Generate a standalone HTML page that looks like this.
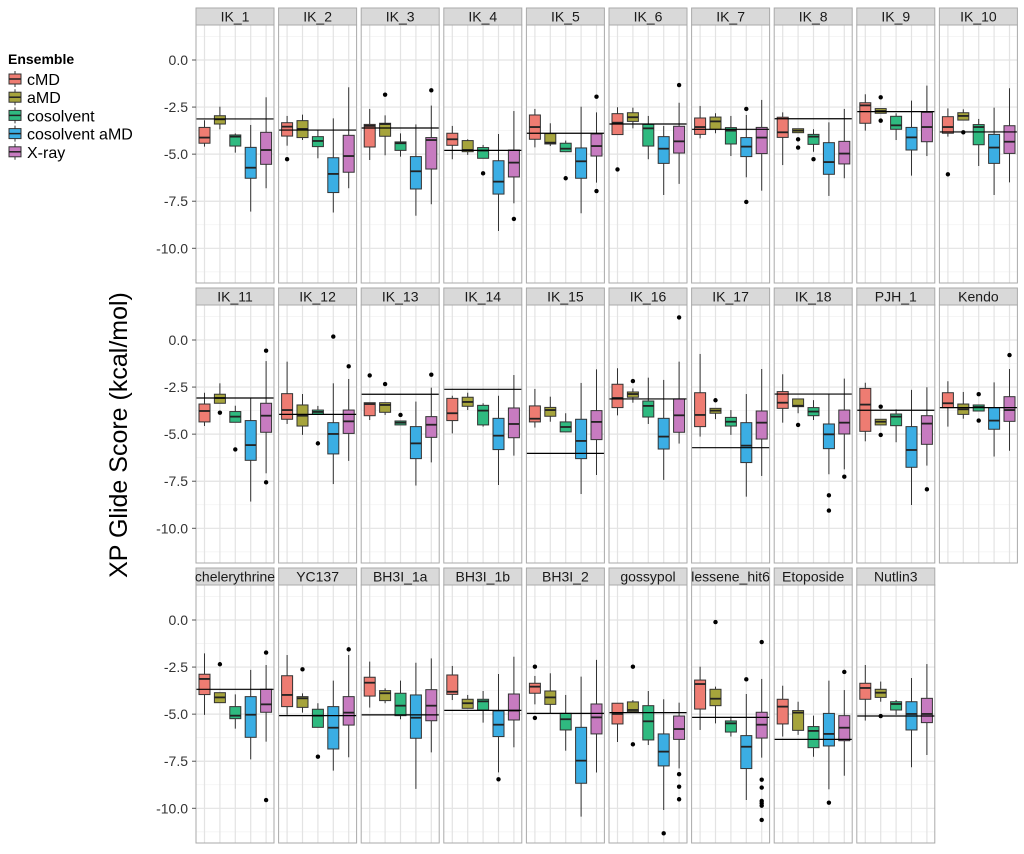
<!DOCTYPE html>
<html><head><meta charset="utf-8">
<style>
html,body{margin:0;padding:0;background:#fff;}
svg{display:block;font-family:"Liberation Sans",Arial,sans-serif;}
</style></head>
<body>
<svg id="chart" width="1024" height="854" viewBox="0 0 1024 854" xmlns="http://www.w3.org/2000/svg">
  <text transform="translate(127,435) rotate(-90)" text-anchor="middle" font-size="25" fill="#000">XP Glide Score (kcal/mol)</text>
  <g id="legend">
    <text x="8" y="64" font-size="14" font-weight="bold" fill="#000">Ensemble</text>
  </g>
</svg>
<script>
const facets = ["IK_1","IK_2","IK_3","IK_4","IK_5","IK_6","IK_7","IK_8","IK_9","IK_10",
"IK_11","IK_12","IK_13","IK_14","IK_15","IK_16","IK_17","IK_18","PJH_1","Kendo",
"chelerythrine","YC137","BH3I_1a","BH3I_1b","BH3I_2","gossypol","lessene_hit6","Etoposide","Nutlin3"];
const seriesNames = ["cMD","aMD","cosolvent","cosolvent aMD","X-ray"];
const yTicks = [0,-2.5,-5,-7.5,-10];
const yTickLabels = ["0.0","-2.5","-5.0","-7.5","-10.0"];
const hlines = [-3.13,-3.72,-3.61,-4.8,-3.89,-3.4,-3.68,-3.12,-2.74,-3.82,-3.08,-3.95,-2.88,-2.62,-6.02,-3.13,-5.72,-2.87,-3.73,-3.59,-3.68,-5.08,-5.04,-4.8,-4.96,-4.92,-5.17,-6.34,-5.1];
// [lower whisker, q1, median, q3, upper whisker]
const cMD = [[-4.6,-4.42,-4.12,-3.58,-3.2],[-4.55,-4.04,-3.54,-3.33,-2.97],[-5.31,-4.62,-3.5,-3.42,-2.6],[-5.27,-4.53,-4.21,-3.89,-3.5],[-4.64,-4.21,-3.56,-2.92,-2.6],[-3.96,-3.96,-3.33,-2.85,-2.51],[-4.16,-3.95,-3.56,-3.08,-2.44],[-5.58,-4.11,-3.84,-3.04,-2.78],[-3.75,-3.36,-2.41,-2.27,-1.82],[-4.07,-3.89,-3.56,-3.01,-2.57],
[-4.57,-4.35,-3.77,-3.4,-2.8],[-4.46,-4.21,-3.72,-2.85,-1.15],[-4.25,-4.02,-3.4,-3.33,-3.33],[-4.96,-4.28,-3.89,-3.1,-2.96],[-4.65,-4.35,-4.18,-3.5,-2.6],[-4.0,-3.59,-3.08,-2.35,-1.5],[-5.13,-4.6,-3.98,-2.8,-0.74],[-4.39,-3.63,-3.33,-2.74,-1.82],[-5.38,-4.85,-3.43,-2.57,-2.27],[-4.6,-3.59,-3.36,-2.8,-2.19],
[-5.04,-3.96,-3.13,-2.88,-1.77],[-5.04,-4.6,-3.98,-2.96,-1.86],[-4.65,-4.04,-3.33,-3.04,-2.21],[-4.25,-3.95,-3.81,-2.92,-2.44],[-4.48,-3.89,-3.54,-3.36,-2.97],[-6.48,-5.52,-4.99,-4.42,-4.42],[-5.84,-4.73,-3.4,-3.19,-2.48],[-6.19,-5.52,-4.6,-4.21,-3.49],[-5.34,-4.21,-3.61,-3.36,-2.39]];
const aMD = [[-3.68,-3.4,-3.15,-2.96,-2.48],[-4.25,-4.12,-3.66,-3.22,-2.9],[-5.06,-4.05,-3.4,-3.36,-2.94],[-5.04,-4.87,-4.78,-4.28,-4.21],[-4.57,-4.46,-4.39,-3.91,-3.36],[-3.63,-3.26,-3.04,-2.8,-2.53],[-3.89,-3.68,-3.26,-3.03,-2.83],[-3.86,-3.86,-3.75,-3.65,-3.65],[-2.83,-2.83,-2.71,-2.58,-2.58],[-3.19,-3.19,-2.97,-2.8,-2.62],
[-3.36,-3.36,-3.08,-2.88,-2.3],[-5.04,-4.57,-4.02,-3.45,-2.87],[-3.98,-3.84,-3.45,-3.33,-3.33],[-3.72,-3.52,-3.29,-3.04,-2.8],[-4.34,-4.05,-3.72,-3.58,-3.01],[-3.33,-3.04,-2.87,-2.76,-2.57],[-4.2,-3.89,-3.75,-3.63,-3.63],[-3.89,-3.54,-3.49,-3.13,-3.13],[-4.51,-4.51,-4.34,-4.21,-4.21],[-4.18,-3.95,-3.68,-3.4,-2.76],
[-4.39,-4.39,-4.11,-3.86,-3.86],[-4.92,-4.64,-4.16,-4.07,-3.9],[-4.42,-4.28,-3.89,-3.75,-3.63],[-4.69,-4.69,-4.42,-4.21,-3.98],[-4.99,-4.48,-4.11,-3.77,-2.83],[-4.87,-4.87,-4.78,-4.35,-4.25],[-5.49,-4.55,-4.18,-3.68,-3.54],[-6.1,-5.86,-4.92,-4.81,-4.34],[-4.34,-4.11,-3.86,-3.68,-3.27]];
const cosolvent = [[-4.92,-4.57,-4.07,-3.98,-3.9],[-5.22,-4.6,-4.3,-4.07,-3.72],[-5.13,-4.8,-4.42,-4.35,-3.9],[-5.22,-5.22,-4.81,-4.65,-4.51],[-4.87,-4.87,-4.71,-4.42,-4.28],[-5.27,-4.57,-3.63,-3.42,-2.97],[-5.1,-4.46,-3.75,-3.59,-2.97],[-4.87,-4.48,-4.07,-3.95,-3.68],[-4.25,-3.68,-3.47,-2.99,-2.83],[-5.63,-4.5,-3.56,-3.43,-3.13],
[-4.37,-4.37,-4.07,-3.8,-3.49],[-3.95,-3.95,-3.82,-3.72,-3.5],[-4.51,-4.51,-4.39,-4.3,-4.3],[-4.6,-4.51,-3.75,-3.47,-3.36],[-4.88,-4.88,-4.62,-4.35,-3.89],[-4.46,-4.09,-3.5,-3.24,-2.0],[-5.04,-4.57,-4.34,-4.11,-3.72],[-4.25,-4.02,-3.8,-3.59,-3.19],[-5.43,-4.55,-4.07,-3.93,-3.68],[-3.77,-3.77,-3.56,-3.45,-3.45],
[-5.77,-5.24,-5.08,-4.6,-3.95],[-5.7,-5.7,-5.08,-4.74,-4.42],[-5.27,-5.08,-4.55,-3.89,-3.22],[-5.45,-4.78,-4.32,-4.21,-3.77],[-6.94,-5.84,-5.27,-4.96,-3.98],[-6.64,-6.37,-5.38,-4.55,-3.77],[-6.19,-5.95,-5.49,-5.36,-5.13],[-7.26,-6.78,-5.89,-5.66,-5.08],[-5.04,-4.78,-4.46,-4.34,-4.25]];
const cosolventAMD = [[-8.05,-6.28,-5.72,-4.64,-3.45],[-8.1,-7.04,-6.05,-5.19,-3.1],[-8.27,-6.85,-5.91,-5.13,-3.42],[-9.08,-7.12,-6.46,-5.35,-3.93],[-8.14,-6.28,-5.38,-4.67,-2.48],[-7.17,-5.49,-4.71,-4.07,-3.5],[-6.23,-5.13,-4.6,-4.12,-2.92],[-7.22,-6.07,-5.42,-4.39,-3.31],[-6.14,-4.78,-4.11,-3.58,-2.16],[-7.17,-5.49,-4.65,-3.95,-2.53],
[-8.58,-6.39,-5.58,-4.28,-3.1],[-7.65,-6.05,-4.99,-4.39,-2.3],[-7.73,-6.3,-5.49,-4.6,-3.27],[-7.7,-5.82,-5.08,-4.16,-2.96],[-8.18,-6.3,-5.36,-4.21,-2.28],[-7.43,-5.79,-5.13,-4.16,-2.12],[-8.32,-6.51,-5.61,-4.39,-2.87],[-7.13,-5.77,-5.01,-4.46,-2.87],[-8.76,-6.76,-5.84,-4.6,-2.65],[-6.19,-4.74,-4.28,-3.59,-2.25],
[-7.4,-6.23,-5.03,-4.07,-2.65],[-8.0,-6.85,-5.72,-4.6,-3.22],[-8.97,-6.28,-5.19,-3.98,-2.27],[-8.09,-6.19,-5.56,-4.83,-2.87],[-10.44,-8.67,-7.47,-5.7,-3.01],[-10.09,-7.75,-6.99,-6.05,-4.21],[-9.56,-7.89,-6.73,-6.14,-3.93],[-8.99,-6.69,-6.05,-4.96,-3.22],[-7.82,-5.84,-4.99,-4.34,-3.08]];
const xray = [[-6.81,-5.54,-4.78,-3.84,-1.98],[-6.81,-5.96,-5.1,-4.0,-1.45],[-7.66,-5.79,-4.25,-4.12,-2.42],[-7.61,-6.21,-5.45,-4.78,-2.71],[-6.51,-5.1,-4.57,-3.93,-2.78],[-6.58,-4.94,-4.32,-3.52,-2.27],[-6.94,-4.97,-4.12,-3.58,-2.12],[-6.28,-5.52,-4.97,-4.32,-2.6],[-5.1,-4.34,-3.56,-2.78,-1.36],[-6.5,-4.96,-4.34,-3.49,-1.5],
[-7.08,-4.9,-4.02,-3.36,-1.12],[-6.42,-4.96,-4.32,-3.72,-2.07],[-6.5,-5.17,-4.5,-4.07,-2.53],[-6.14,-5.19,-4.46,-3.61,-1.86],[-7.17,-5.29,-4.35,-3.75,-1.56],[-5.5,-4.9,-4.0,-3.13,-1.15],[-7.22,-5.26,-4.39,-3.77,-1.54],[-6.87,-4.99,-4.39,-3.72,-2.05],[-6.67,-5.54,-4.44,-4.02,-2.51],[-5.88,-4.32,-3.72,-3.01,-1.54],
[-6.46,-4.9,-4.48,-3.68,-2.39],[-7.29,-5.58,-4.92,-4.07,-1.86],[-7.03,-5.35,-4.55,-3.7,-2.04],[-6.76,-5.31,-4.81,-3.93,-1.95],[-8.1,-6.05,-5.17,-4.46,-2.12],[-7.88,-6.34,-5.79,-5.1,-4.39],[-7.31,-6.27,-5.56,-4.9,-3.13],[-8.27,-6.41,-5.72,-5.08,-3.72],[-7.17,-5.45,-4.99,-4.16,-2.34]];
// [facet index, series index, value]
const outliers = [[1,0,-5.27],[2,1,-1.84],[2,4,-1.61],[3,2,-6.02],[3,4,-8.44],[4,2,-6.28],[4,4,-1.95],[4,4,-6.96],[5,0,-5.81],[5,4,-1.33],[6,3,-2.6],[6,3,-7.54],[7,1,-4.21],[7,1,-4.65],[7,2,-5.27],[8,1,-1.98],[8,1,-3.22],[9,0,-6.07],[9,1,-3.84],
[10,1,-3.86],[10,2,-5.81],[10,4,-0.57],[10,4,-7.56],[11,2,-5.49],[11,3,0.18],[11,4,-1.4],[12,0,-1.88],[12,1,-2.34],[12,2,-3.98],[12,4,-1.84],[15,1,-2.18],[15,4,1.2],[16,1,-3.2],[17,1,-4.51],[17,3,-8.25],[17,3,-9.06],[17,4,-7.26],[18,1,-3.54],[18,1,-5.04],[18,4,-7.93],[19,2,-2.88],[19,2,-4.28],[19,4,-0.8],
[20,1,-2.35],[20,4,-1.73],[20,4,-9.56],[21,1,-2.62],[21,2,-7.26],[21,4,-1.56],[23,3,-8.46],[24,0,-2.48],[24,0,-5.2],[25,1,-2.48],[25,1,-6.6],[25,3,-11.33],[25,4,-8.19],[25,4,-8.85],[25,4,-9.52],[26,1,-0.11],[26,3,-3.15],[26,4,-1.17],[26,4,-8.48],[26,4,-8.9],[26,4,-9.61],[26,4,-9.73],[26,4,-9.86],[26,4,-10.62],[27,3,-9.7],[27,4,-2.76],[28,1,-5.1]];

const allSeries = [cMD, aMD, cosolvent, cosolventAMD, xray];
const fills = ["#EE7C72","#A6A43C","#2FBA80","#3BAEE4","#C77BC0"];
const NS = "http://www.w3.org/2000/svg";
const svg = document.getElementById("chart");
const PX0 = 196, PITCH = 82.6, PW = 78;
const ROW_TOP = [25, 305, 585], PH = 258;
const UNIT = 18.83, ZERO_OFF = 35;
const Y_MAX = 1.86, Y_MIN = -11.85;

function mk(tag, attrs, parent){
  const e = document.createElementNS(NS, tag);
  for (const k in attrs) e.setAttribute(k, attrs[k]);
  (parent || svg).appendChild(e);
  return e;
}
function yScale(row, v){ return ROW_TOP[row] + ZERO_OFF - v * UNIT; }
function xScale(col, s){ return PX0 + col * PITCH + 8.5 + s * 15.4; }

for (let f = 0; f < facets.length; f++) {
  const row = Math.floor(f / 10), col = f % 10;
  const px = PX0 + col * PITCH, py = ROW_TOP[row];
  const g = mk("g", {});
  
  
  const strip = mk("rect", {x: px, y: py - 17, width: PW, height: 17, fill: "#D9D9D9", stroke: "#AAAAAA", "stroke-width": 1}, g);
  
  
  const st = mk("text", {x: px + PW / 2, y: py - 3.5, "text-anchor": "middle", "font-size": 14, fill: "#1a1a1a"}, g);
  st.textContent = facets[f];
  
  
  const bg = mk("rect", {x: px, y: py, width: PW, height: PH, fill: "#fff"}, g);
  
  
  for (let v = 1.25; v > Y_MIN; v -= 2.5) {
    const yy = yScale(row, v);
    if (yy > py && yy < py + PH) mk("line", {x1: px, x2: px + PW, y1: yy, y2: yy, stroke: "#F2F2F2", "stroke-width": 0.8}, g);
  }
  for (let t = 0; t < yTicks.length; t++) {
    const yy = yScale(row, yTicks[t]);
    mk("line", {x1: px, x2: px + PW, y1: yy, y2: yy, stroke: "#E3E3E3", "stroke-width": 1.2}, g);
  }
  for (let s = 0; s < 5; s++) {
    const xx = xScale(col, s);
    mk("line", {x1: xx, x2: xx, y1: py, y2: py + PH, stroke: "#E3E3E3", "stroke-width": 1.2}, g);
  }
  for (let s = 0; s < 5; s++) {
    const d = allSeries[s][f];
    const xc = xScale(col, s);
    const bx = mk("g", {}, g);
    
    
    mk("line", {x1: xc, x2: xc, y1: yScale(row, d[4]), y2: yScale(row, d[0]), stroke: "#333", "stroke-width": 1}, bx);
    mk("rect", {x: xc - 5.5, y: yScale(row, d[3]), width: 11, height: Math.max(1, yScale(row, d[1]) - yScale(row, d[3])), fill: fills[s], stroke: "#333", "stroke-width": 1}, bx);
    mk("line", {x1: xc - 5.5, x2: xc + 5.5, y1: yScale(row, d[2]), y2: yScale(row, d[2]), stroke: "#222", "stroke-width": 1.8}, bx);
  }
  for (const o of outliers) {
    if (o[0] !== f) continue;
    const c = mk("circle", {cx: xScale(col, o[1]), cy: yScale(row, o[2]), r: 2.2, fill: "#000"}, g);
    
    
  }
  const hl = mk("line", {x1: px, x2: px + PW, y1: yScale(row, hlines[f]), y2: yScale(row, hlines[f]), stroke: "#000", "stroke-width": 1.2}, g);
  
  
  mk("rect", {x: px, y: py, width: PW, height: PH, fill: "none", stroke: "#AAAAAA", "stroke-width": 1}, g);
}
for (let row = 0; row < 3; row++) {
  for (let t = 0; t < yTicks.length; t++) {
    const lab = mk("text", {x: 188, y: yScale(row, yTicks[t]) + 5, "text-anchor": "end", "font-size": 14, fill: "#333"});
    lab.textContent = yTickLabels[t];
    
    
    mk("line", {x1: 192, x2: 196, y1: yScale(row, yTicks[t]), y2: yScale(row, yTicks[t]), stroke: "#555", "stroke-width": 1});
  }
}
const legend = document.getElementById("legend");
for (let s = 0; s < 5; s++) {
  const ly = 79 + s * 18.2;
  const eg = mk("g", {}, legend);
  
  
  mk("line", {x1: 15, x2: 15, y1: ly - 8, y2: ly + 8, stroke: "#333", "stroke-width": 1}, eg);
  mk("rect", {x: 9, y: ly - 5, width: 12, height: 10, fill: fills[s], stroke: "#333", "stroke-width": 1}, eg);
  mk("line", {x1: 9, x2: 21, y1: ly, y2: ly, stroke: "#222", "stroke-width": 1.5}, eg);
  const t = mk("text", {x: 27, y: ly + 6, "font-size": 16, fill: "#000"}, eg);
  t.textContent = seriesNames[s];
}
</script>
</body></html>
